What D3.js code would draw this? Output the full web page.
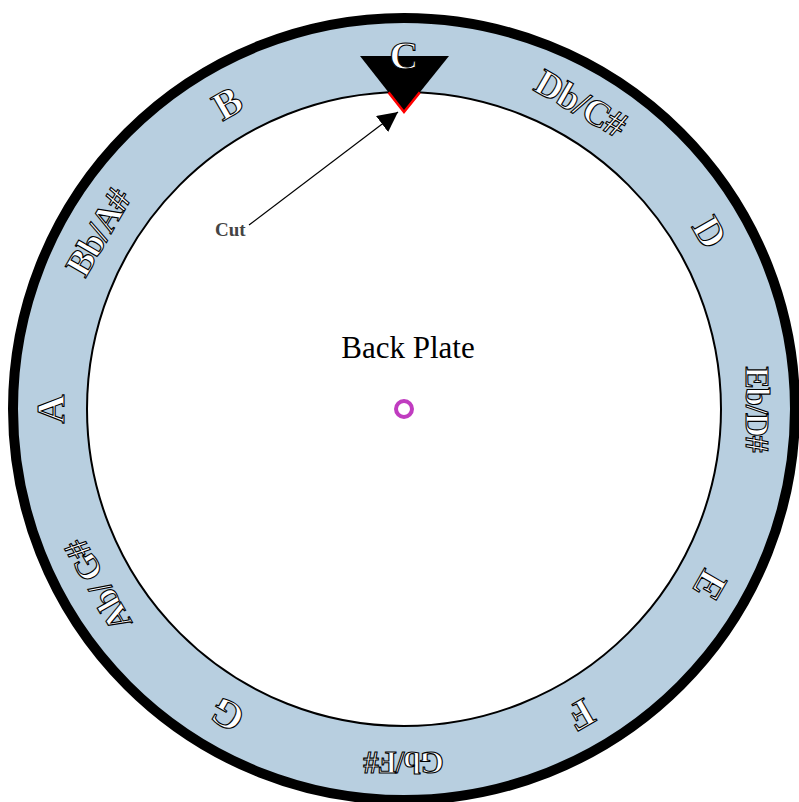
<!DOCTYPE html>
<html><head><meta charset="utf-8">
<script src="https://cdn.jsdelivr.net/npm/d3@7/dist/d3.min.js"></script>
<style>html,body{margin:0;padding:0;background:#fff;overflow:hidden}</style>
</head><body>
<svg id="chart" width="799" height="802"></svg>
<script>
const notes = ["C","Db/C#","D","Eb/D#","E","F","Gb/F#","G","Ab/ G#","A","Bb/A#","B"];
const title = "Back Plate";
const cutLabel = "Cut";

const W = 799, H = 802, cx = 404, cy = 409;
const svg = d3.select("#chart");
const angle = d3.scaleLinear().domain([0, notes.length]).range([0, 360]);
const g = svg.append("g").attr("transform", `translate(${cx},${cy})`);

// outer black ring + blue band
g.append("circle").attr("r", 391).attr("fill", "#b8cfe0").attr("stroke", "#000").attr("stroke-width", 10);
// inner plate
g.append("circle").attr("r", 317).attr("fill", "#fff").attr("stroke", "#000").attr("stroke-width", 2);

// triangle marker
const tri = [[-44, -353], [45, -353], [0, -297]];
g.append("path").attr("d", d3.line()(tri) + "Z").attr("fill", "#000");
const yi = -Math.sqrt(317*317 - 15*15);
function edgePt(p){
  const a = tri[2]; const t = (yi - a[1])/(p[1]-a[1]);
  return [a[0] + t*(p[0]-a[0]), yi];
}
g.append("path").attr("d", d3.line()([edgePt(tri[0]), tri[2], edgePt(tri[1])]))
  .attr("fill", "none").attr("stroke", "#ff0000").attr("stroke-width", 2.5);

// note labels (style lookup for label sizes)
const labelSize = {"Db/C#": 37, "Eb/D#": 33, "Gb/F#": 31, "Ab/ G#": 34, "Bb/A#": 36};
g.selectAll("text.note").data(notes).join("text")
  .attr("class", "note")
  .attr("transform", (d, i) => `rotate(${angle(i)}) translate(0,-353)`)
  .attr("text-anchor", "middle")
  .attr("dy", "0.33em")
  .attr("font-family", "'Liberation Serif', serif")
  .attr("font-weight", "bold")
  .attr("font-size", d => labelSize[d] || 40)
  .attr("letter-spacing", d => d.length > 1 ? -1 : 0)
  .attr("fill", "#fff")
  .attr("stroke", "#000")
  .attr("stroke-width", 1.1)
  .text(d => d);

// title
svg.append("text").attr("x", 408).attr("y", 358).attr("text-anchor", "middle")
  .attr("font-family", "'Liberation Serif', serif").attr("font-size", 31).attr("fill", "#000")
  .text(title);

// center hole
g.append("circle").attr("r", 8).attr("fill", "none").attr("stroke", "#c03cc0").attr("stroke-width", 4);

// arrow
const defs = svg.append("defs");
defs.append("marker").attr("id", "arr").attr("viewBox", "0 0 10 10").attr("refX", 10).attr("refY", 5)
  .attr("markerWidth", 20).attr("markerHeight", 20).attr("orient", "auto").attr("markerUnits", "userSpaceOnUse")
  .append("path").attr("d", "M0,0 L10,5 L0,10 Z").attr("fill", "#000");
svg.append("line").attr("x1", 249).attr("y1", 225).attr("x2", 398).attr("y2", 112)
  .attr("stroke", "#000").attr("stroke-width", 1.2).attr("marker-end", "url(#arr)");
svg.append("text").attr("x", 215).attr("y", 236)
  .attr("font-family", "'Liberation Serif', serif").attr("font-weight", "bold").attr("font-size", 19)
  .attr("fill", "#444").text(cutLabel);
</script>
</body></html>
